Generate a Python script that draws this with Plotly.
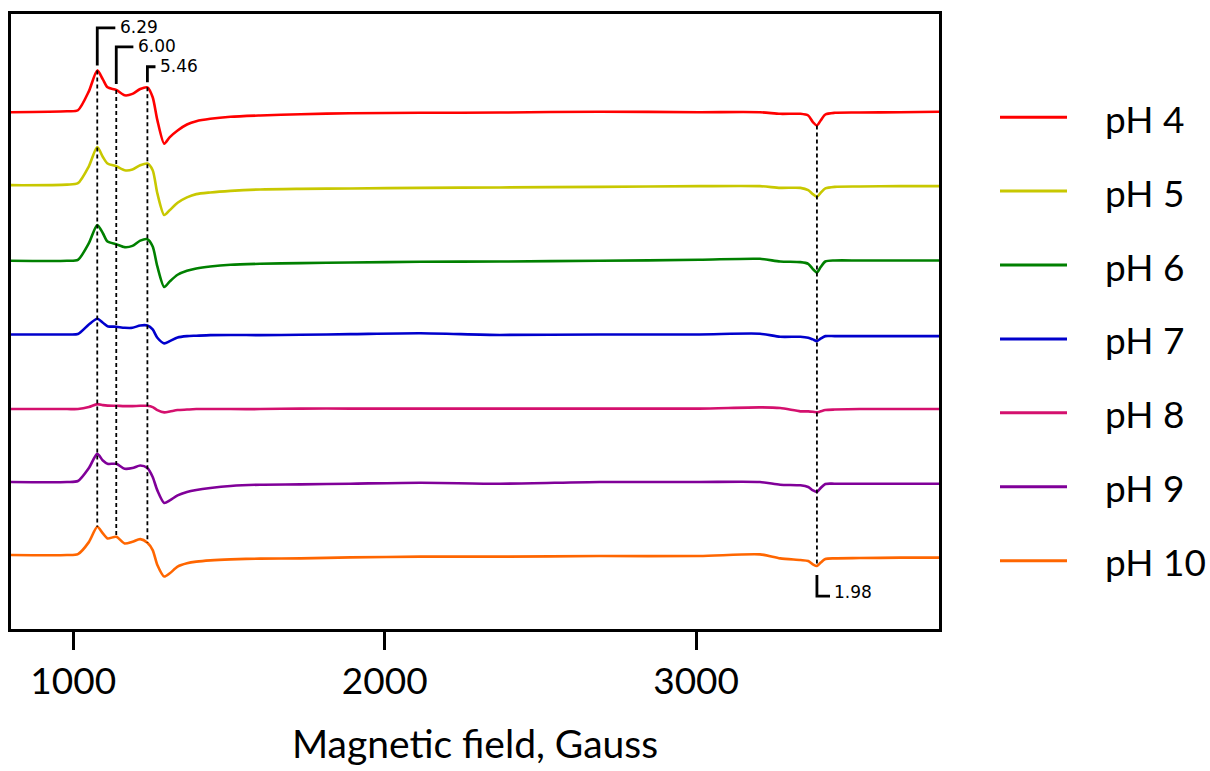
import plotly.graph_objects as go

# Magnetic field sampling points (Gauss)
FIELD = [800, 980, 1015, 1050, 1077, 1095, 1110, 1138, 1165, 1190,
         1215, 1238, 1255, 1270, 1292, 1310, 1335, 1365, 1395, 1440,
         1505, 1600, 1730, 1890, 2115, 2370, 2690, 3010, 3205, 3270,
         3335, 3360, 3375, 3388, 3400, 3415, 3445, 3525, 3655, 3780]

# EPR signal (a.u.) for each pH, relative to its own baseline
PH4 = [0, 1, 2, 21, 42, 33, 25, 22.4, 17, 18.4, 23.4, 25, 15, -8, -31.6, -25, -18.3,
       -12.3, -9, -6.6, -4.6, -3.3, -2, -1, -0.6, -0.3, 0.5, 0, 0, -1.6, -1.6, -3.3,
       -10, -13.3, -8.3, -2.3, -0.6, -0.3, 0, 0.5]
PH5 = [0, 0.5, 2, 19, 38.3, 28.3, 21.7, 19, 15, 15.7, 20, 21.7, 15, -8.3, -30, -25,
       -17.7, -12.3, -9, -7.3, -5.7, -4.3, -3.7, -3.3, -2.7, -2.3, -1.7, -1, -1, -2.7,
       -2.7, -5, -9, -11.7, -7.7, -3.3, -1.7, -1.3, -1, -1]
PH6 = [0, 0, 1, 17.7, 36, 27.7, 19.3, 16.7, 13.7, 15, 20.3, 21.7, 14.3, -5.7, -26.3,
       -20.7, -14, -10, -7.7, -5.7, -4, -3, -2.3, -1.7, -1, -0.7, 0, 1, 2, -0.7, -1.3,
       -3, -8.3, -11.7, -6.3, -0.7, 0.3, 0.3, 0.3, 0.3]
PH7 = [0, 0, 0.5, 10, 15.7, 11.7, 8.3, 7.7, 6.7, 6.7, 9, 9, 5, -3.3, -9, -6.7, -3,
       -1.7, -1.3, -0.7, -0.5, -0.7, -0.3, 0.3, 1.2, -0.5, 0, 0, 0.7, -2.3, -2.3, -3.3,
       -5, -6.7, -4.3, -1.7, -1.7, -1.7, -1.7, -1.7]
PH8 = [0, 0, 0, 2, 5, 4, 3.5, 3.3, 3, 3, 3.3, 3.3, 2, -1, -3.3, -2.5, -1, -0.5, 0, 0,
       0, 0, 0.5, 0.5, 0.5, 0.5, 0.5, 0.5, 1.7, 1, -2.3, -2.3, -2.7, -3.3, -2.3, -1,
       -0.5, 0, 0, 0]
PH9 = [0, 0, 1, 14, 28.3, 21.6, 18.3, 18.3, 13.3, 14, 16.6, 14, 5, -8.4, -21, -18.4,
       -13.4, -10, -8, -6, -4, -2.7, -2.4, -1.7, -0.7, -1.7, 0, 0, 0, -2.7, -3.3, -5,
       -8.4, -10, -6, -2, -1.7, -1.7, -1.7, -1.7]
PH10 = [0, 0, 1, 13, 28.4, 21.7, 16.7, 18.4, 11.7, 13.4, 16, 12.4, 5, -10, -21.6,
        -18.3, -11.6, -8.3, -6.6, -5.3, -4.3, -3.6, -3.3, -2.3, -1.6, -1.6, -1, -1, 0.7,
        -3.3, -5, -6, -9.3, -11, -7.6, -4, -3.3, -3, -2.6, -2.6]

SERIES = [PH4, PH5, PH6, PH7, PH8, PH9, PH10]
NAMES = ["pH 4", "pH 5", "pH 6", "pH 7", "pH 8", "pH 9", "pH 10"]
COLORS = ["#ff0000", "#c8c800", "#008000", "#0000cc", "#d4106e", "#800099", "#ff6600"]
# vertical stacking offsets of the spectra (a.u.)
OFFSETS = [519.3, 446, 370, 296, 221, 147.7, 74.3]

# g-values marked on the spectra and the fields where they occur
G_LABELS = ["6.29", "6.00", "5.46", "1.98"]
G_FIELDS = [1077, 1138, 1238, 3388]

X_RANGE = [800, 3780]
Y_RANGE = [0, 618]

fig = go.Figure()
for vals, name, color, off in zip(SERIES, NAMES, COLORS, OFFSETS):
    fig.add_trace(go.Scatter(
        x=FIELD, y=[v + off for v in vals], mode="lines", name=name,
        line=dict(color=color, width=2.6, shape="spline", smoothing=0.7),
        showlegend=False,
    ))

shapes = []
annotations = []
label_font = dict(family="DejaVu Sans", size=17, color="black")

# dotted guides through all spectra at each g-value
top = [v + OFFSETS[0] for v in SERIES[0]]
bot = [v + OFFSETS[-1] for v in SERIES[-1]]
for f in G_FIELDS:
    i = FIELD.index(f)
    shapes.append(dict(type="line", xref="x", yref="y", x0=f, x1=f,
                       y0=top[i], y1=bot[i],
                       line=dict(color="black", width=1.8, dash="4px,3px")))

# bracket labels above the top spectrum
bracket_top = [604, 585, 565]
bracket_gap = [5, 6, 5]
bracket_arm = [58, 55, 26]
for k in range(3):
    f = G_FIELDS[k]
    i = FIELD.index(f)
    y0 = top[i] + bracket_gap[k]
    y1 = bracket_top[k]
    x2 = f + bracket_arm[k]
    shapes.append(dict(type="path", xref="x", yref="y",
                       path=f"M {f},{y0} L {f},{y1} L {x2},{y1}",
                       line=dict(color="black", width=2.8)))
    annotations.append(dict(x=x2 + 7, y=y1 + 1, xref="x", yref="y", text=G_LABELS[k],
                            showarrow=False, xanchor="left", yanchor="middle",
                            font=label_font))

# bracket label below the bottom spectrum
f = G_FIELDS[3]
i = FIELD.index(f)
y0 = bot[i] - 9
y1 = 33
shapes.append(dict(type="path", xref="x", yref="y",
                   path=f"M {f},{y0} L {f},{y1} L {f + 42},{y1}",
                   line=dict(color="black", width=2.8)))
annotations.append(dict(x=f + 48, y=y1 + 4, xref="x", yref="y", text=G_LABELS[3],
                        showarrow=False, xanchor="left", yanchor="middle",
                        font=label_font))

# legend drawn to the right of the plot area
PLOT_L, PLOT_R, PLOT_T, PLOT_B = 11, 939, 13, 631
def px_x(p):
    return (p - PLOT_L) / (PLOT_R - PLOT_L)
def px_y(p):
    return (PLOT_B - p) / (PLOT_B - PLOT_T)

for k, (name, color) in enumerate(zip(NAMES, COLORS)):
    yp = 116.7 + k * 74.27
    shapes.append(dict(type="line", xref="paper", yref="paper",
                       x0=px_x(1000), x1=px_x(1067), y0=px_y(yp), y1=px_y(yp),
                       line=dict(color=color, width=3)))
    annotations.append(dict(x=px_x(1103), y=px_y(yp + 1), xref="paper", yref="paper",
                            text=name, showarrow=False, xanchor="left",
                            yanchor="middle",
                            font=dict(family="Lato", size=37, color="black")))

fig.update_layout(
    width=1210, height=771,
    margin=dict(l=PLOT_L, r=1210 - PLOT_R, t=PLOT_T, b=771 - PLOT_B, pad=0),
    paper_bgcolor="white", plot_bgcolor="white",
    shapes=shapes, annotations=annotations,
    xaxis=dict(range=X_RANGE, tickvals=[1000, 2000, 3000],
               ticktext=["1000", "2000", "3000"],
               ticks="outside", ticklen=18, tickwidth=2.5, tickcolor="black",
               showline=True, linewidth=3, linecolor="black", mirror=True,
               showgrid=False, zeroline=False,
               tickfont=dict(family="Lato", size=37, color="black"),
               title=dict(text="Magnetic field, Gauss", standoff=30,
                          font=dict(family="Lato", size=39, color="black"))),
    yaxis=dict(range=Y_RANGE, showticklabels=False, ticks="",
               showline=True, linewidth=3, linecolor="black", mirror=True,
               showgrid=False, zeroline=False),
)

fig.write_html("out.html")
